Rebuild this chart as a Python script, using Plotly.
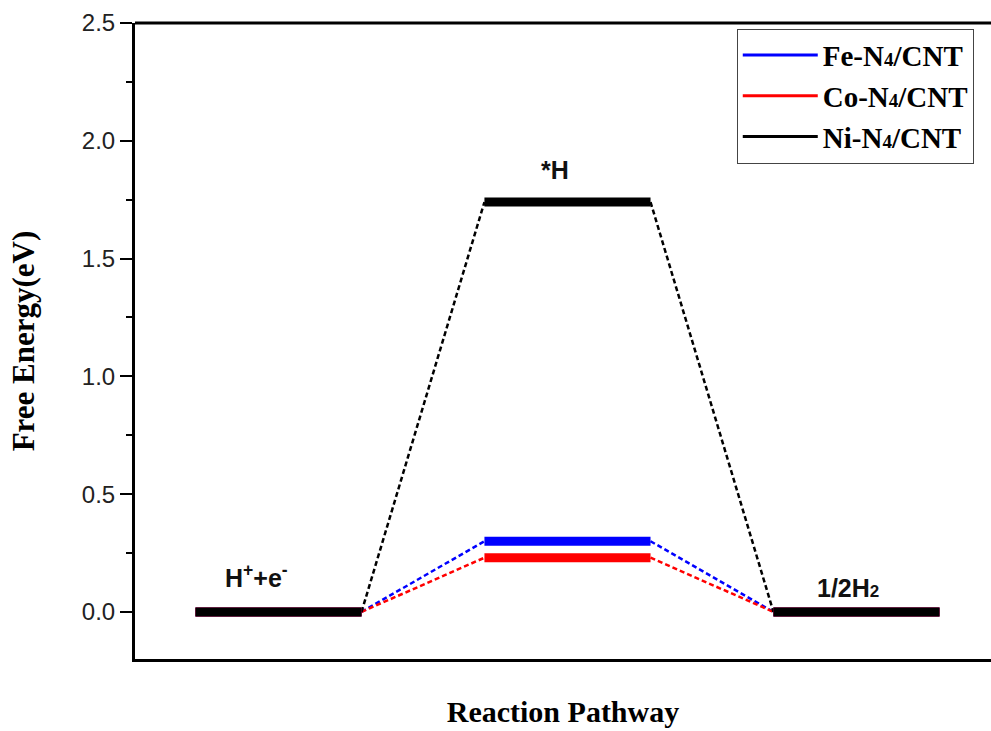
import plotly.graph_objects as go

# ---- data ----
steps = ["H<sup>+</sup>+e<sup>-</sup>", "*H", "1/2H<span style=\"font-size:17px\">2</span>"]
series_names = ["Fe-N<span style=\"font-size:19px\">4</span>/CNT",
                "Co-N<span style=\"font-size:19px\">4</span>/CNT",
                "Ni-N<span style=\"font-size:19px\">4</span>/CNT"]
fe_energy = [0.0, 0.30, 0.0]
co_energy = [0.0, 0.23, 0.0]
ni_energy = [0.0, 1.74, 0.0]
y_ticks = [0.0, 0.5, 1.0, 1.5, 2.0, 2.5]
y_tick_labels = ["0.0", "0.5", "1.0", "1.5", "2.0", "2.5"]

# ---- layout / style ----
LEVEL_W = 1.0
PITCH = 1.74
colors = ["#0000ff", "#ff0000", "#000000"]
label_xshift = [-22, -12, -8]
label_yshift = [36, 32, 24]

fig = go.Figure()

all_series = [fe_energy, co_energy, ni_energy]

def level_xy(vals):
    xs, ys = [], []
    for i, v in enumerate(vals):
        x0 = i * PITCH
        xs += [x0, x0 + LEVEL_W, None]
        ys += [v, v, None]
    return xs, ys

def conn_xy(vals):
    xs, ys = [], []
    for i in range(len(vals) - 1):
        xs += [i * PITCH + LEVEL_W, (i + 1) * PITCH, None]
        ys += [vals[i], vals[i + 1], None]
    return xs, ys

# dashed connectors first
for name, vals, c in zip(series_names, all_series, colors):
    xs, ys = conn_xy(vals)
    fig.add_trace(go.Scatter(x=xs, y=ys, mode="lines", showlegend=False,
                             line=dict(color=c, width=2.5, dash="5px,3px"),
                             hoverinfo="skip"))
# thick levels
for name, vals, c in zip(series_names, all_series, colors):
    xs, ys = level_xy(vals)
    fig.add_trace(go.Scatter(x=xs, y=ys, mode="lines", name=name, showlegend=False,
                             line=dict(color=c, width=9)))
# legend entries
for name, c in zip(series_names, colors):
    fig.add_trace(go.Scatter(x=[None], y=[None], mode="lines", name=f"<b>{name}</b>",
                             line=dict(color=c, width=3)))

for i, lab in enumerate(steps):
    fig.add_annotation(x=i * PITCH + LEVEL_W / 2, y=ni_energy[i], text=f"<b>{lab}</b>",
                       showarrow=False, xshift=label_xshift[i], yshift=label_yshift[i],
                       font=dict(family="Liberation Sans, Arial", size=25, color="#111"))

# top frame line
fig.add_shape(type="line", xref="paper", yref="paper", x0=0, x1=1.01, y0=1, y1=1,
              line=dict(color="#000", width=3))

fig.update_layout(
    width=991, height=731,
    margin=dict(l=135, r=0, t=23, b=72),
    paper_bgcolor="white", plot_bgcolor="white",
    showlegend=True,
    legend=dict(x=0.703, y=0.991, xanchor="left", yanchor="top",
                bordercolor="#444", borderwidth=1, bgcolor="white",
                font=dict(family="Liberation Serif, Times New Roman", size=29, color="#000"),
                itemwidth=75, tracegroupgap=0),
    xaxis=dict(range=[-0.364, 4.79], showticklabels=False, ticks="", showgrid=False,
               zeroline=False, showline=True, linecolor="#000", linewidth=3,
               automargin=False,
               title=dict(text="<b>Reaction Pathway</b>", standoff=40,
                          font=dict(family="Liberation Serif, Times New Roman", size=30, color="#000"))),
    yaxis=dict(range=[-0.2, 2.5], tickvals=y_ticks, ticktext=y_tick_labels,
               ticks="outside", ticklen=12, tickwidth=2, tickcolor="#000",
               minor=dict(dtick=0.25, tick0=0, ticks="outside", ticklen=6, tickwidth=2, tickcolor="#000"),
               showgrid=False, zeroline=False, showline=True, linecolor="#000", linewidth=3,
               automargin=False,
               tickfont=dict(family="Liberation Sans, Arial", size=24, color="#222"),
               title=dict(text="<b>Free Energy(eV)</b>", standoff=38,
                          font=dict(family="Liberation Serif, Times New Roman", size=31, color="#000"))),
)

fig.write_html("out.html", config={"displayModeBar": False},
               post_script="document.body.style.margin='0';document.body.style.overflow='hidden';")
